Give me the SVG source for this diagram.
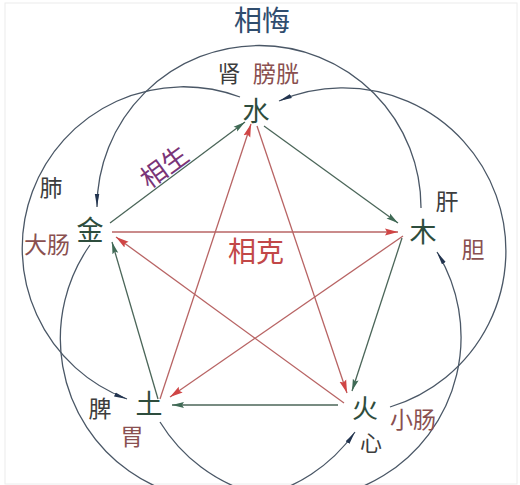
<svg xmlns="http://www.w3.org/2000/svg" width="520" height="485" viewBox="0 0 520 485">
<style>
text{font-family:"Noto Sans CJK SC","Noto Sans CJK TC",sans-serif;text-anchor:middle;dominant-baseline:central}
.el{font-size:27px;fill:#2e4d3d}
.org{font-size:23px;fill:#3d3d3d}
.fu{font-size:23px;fill:#8a5050}
.sheng{stroke:#4b6659;stroke-width:1.3;fill:none;marker-end:url(#ag)}
.ke{stroke:#b86464;stroke-width:1.3;fill:none;marker-end:url(#ar)}
.wu{stroke:#4a5766;stroke-width:1.3;fill:none;marker-end:url(#ab)}
</style>
<defs>
<marker id="ag" markerUnits="userSpaceOnUse" markerWidth="13" markerHeight="7" refX="12" refY="3.5" orient="auto"><path d="M0,0.5 L12,3.5 L0,6.5 L2,3.5 z" fill="#3f6a55"/></marker>
<marker id="ar" markerUnits="userSpaceOnUse" markerWidth="14" markerHeight="8" refX="13" refY="4" orient="auto"><path d="M0,0.5 L13,4 L0,7.5 L2,4 z" fill="#d04545"/></marker>
<marker id="ab" markerUnits="userSpaceOnUse" markerWidth="14" markerHeight="6" refX="13" refY="3" orient="auto"><path d="M0,0.8 L13,3 L0,5.2 z" fill="#22344f"/></marker>
</defs>
<rect x="0" y="0" width="520" height="485" fill="#ffffff"/>
<rect x="5" y="3" width="512" height="481" fill="none" stroke="#ececec" stroke-width="1"/>

<g id="connectors">
  <!-- 相侮 outer arcs -->
  <path class="wu" d="M421 208 A162 162 0 1 0 97 207"/>
  <path class="wu" d="M390 407 A163 163 0 1 0 279 101"/>
  <path class="wu" d="M240 97 A161 161 0 1 0 127 399"/>
  <path class="wu" d="M90 245 A162 162 0 1 0 355 432"/>
  <path class="wu" d="M160 422 A162 162 0 1 0 437 252"/>
  <!-- 相生 -->
  <line class="sheng" x1="110" y1="223" x2="245" y2="122"/>
  <line class="sheng" x1="264" y1="126" x2="398" y2="223"/>
  <line class="sheng" x1="402" y1="238" x2="352" y2="391"/>
  <line class="sheng" x1="338" y1="405" x2="172" y2="405"/>
  <line class="sheng" x1="158" y1="399" x2="112" y2="242"/>
  <!-- 相克 -->
  <line class="ke" x1="112" y1="232" x2="398" y2="232"/>
  <line class="ke" x1="403" y1="236" x2="170" y2="397"/>
  <line class="ke" x1="160" y1="399" x2="251" y2="124"/>
  <line class="ke" x1="257" y1="126" x2="347" y2="393"/>
  <line class="ke" x1="344" y1="403" x2="116" y2="237"/>
</g>

<g id="title"><text x="262" y="19" style="font-size:28px;fill:#2f4d6e">相悔</text></g>
<g id="label-sheng"><text x="163" y="165" transform="rotate(-36 163 165)" style="font-size:26px;fill:#7a3578">相生</text></g>
<g id="label-ke"><text x="256" y="250" style="font-size:28px;fill:#c24848">相克</text></g>

<g id="node-shui">
  <text class="el" x="256" y="109">水</text>
  <text class="org" x="229" y="72">肾</text>
  <text class="fu" x="276" y="72">膀胱</text>
</g>
<g id="node-jin">
  <text class="el" x="90" y="228">金</text>
  <text class="org" x="51" y="186">肺</text>
  <text class="fu" x="47" y="243">大肠</text>
</g>
<g id="node-mu">
  <text class="el" x="423" y="230">木</text>
  <text class="org" x="447" y="200">肝</text>
  <text class="fu" x="473" y="248">胆</text>
</g>
<g id="node-tu">
  <text class="el" x="149" y="402">土</text>
  <text class="org" x="100" y="407">脾</text>
  <text class="fu" x="132" y="435">胃</text>
</g>
<g id="node-huo">
  <text class="el" x="365" y="406" style="font-size:26px">火</text>
  <text class="org" x="371" y="441" style="font-size:22px">心</text>
  <text class="fu" x="413" y="418">小肠</text>
</g>
</svg>
